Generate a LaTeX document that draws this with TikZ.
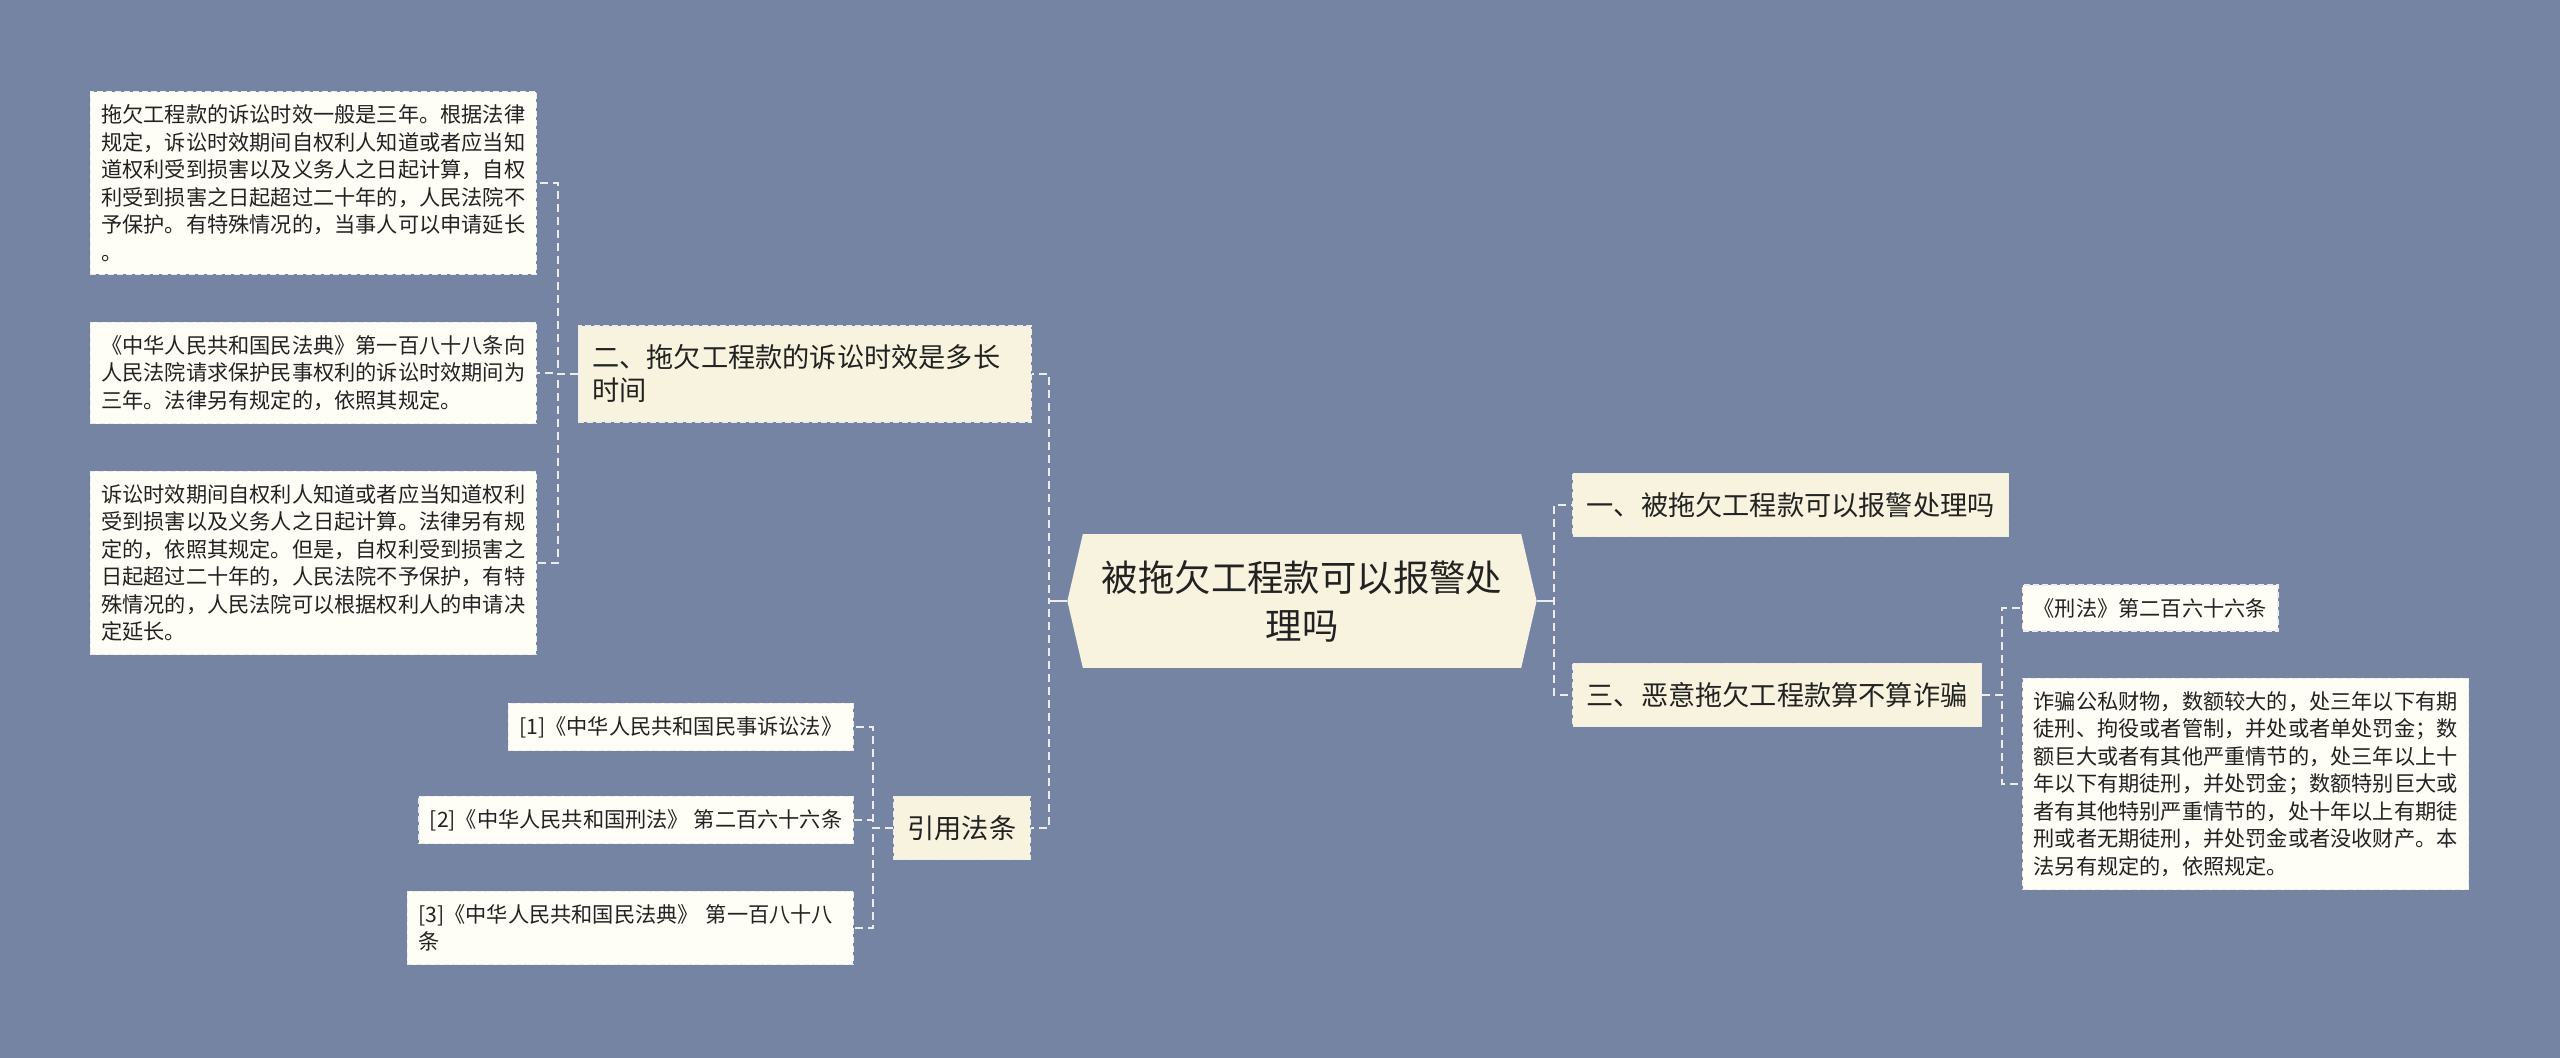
\documentclass[tikz,border=0pt]{standalone}
\usepackage{fontspec}
\setmainfont{Noto Sans CJK SC}
\usepackage{xcolor}
\usetikzlibrary{shapes.symbols}
\definecolor{bgblue}{HTML}{7684A4}
\definecolor{cream}{HTML}{F8F3DE}
\definecolor{paper}{HTML}{FEFDF6}
\definecolor{ink}{HTML}{222222}
\definecolor{rule}{HTML}{ECECEC}

\begin{document}
\begin{tikzpicture}[x=0.5pt,y=-0.5pt,
  box/.style={draw=rule,line width=0.7pt,dash pattern=on 3pt off 1.5pt,text=ink,align=left},
  leaf/.style={box,fill=paper,font={\fontsize{10.6pt}{13.75pt}\selectfont},inner xsep=5.5pt,inner ysep=6.5pt},
  branch/.style={box,fill=cream,font={\fontsize{13.6pt}{16.5pt}\selectfont},inner xsep=7pt,inner ysep=9.5pt},
  link/.style={rule,line width=1pt,dash pattern=on 4pt off 2.5pt}]
  \fill[bgblue] (0,0) rectangle (2560,1058);
  \useasboundingbox (0,0) rectangle (2560,1058);

  % centre
  \node[signal,signal to=west and east,signal pointer angle=154,fill=cream,text=ink,
        align=center,font={\fontsize{18.2pt}{24pt}\selectfont},inner xsep=9.5pt,inner ysep=13pt]
        (ctr) at (1302,601) {被拖欠工程款可以报警处\\理吗};

  % left side
  \node[branch,anchor=east,text width=212.5pt] (two) at (1032,374) {二、拖欠工程款的诉讼时效是多长\\时间};
  \node[branch,anchor=east] (law) at (1031,828) {引用法条};

  \node[leaf,anchor=east] (a1) at (537,183) {拖欠工程款的诉讼时效一般是三年。根据法律\\规定，诉讼时效期间自权利人知道或者应当知\\道权利受到损害以及义务人之日起计算，自权\\利受到损害之日起超过二十年的，人民法院不\\予保护。有特殊情况的，当事人可以申请延长\\。};
  \node[leaf,anchor=east] (a2) at (537,373) {《中华人民共和国民法典》第一百八十八条向\\人民法院请求保护民事权利的诉讼时效期间为\\三年。法律另有规定的，依照其规定。};
  \node[leaf,anchor=east] (a3) at (537,563) {诉讼时效期间自权利人知道或者应当知道权利\\受到损害以及义务人之日起计算。法律另有规\\定的，依照其规定。但是，自权利受到损害之\\日起超过二十年的，人民法院不予保护，有特\\殊情况的，人民法院可以根据权利人的申请决\\定延长。};

  \node[leaf,anchor=east] (ref1) at (854,727) {[1]《中华人民共和国民事诉讼法》};
  \node[leaf,anchor=east] (ref2) at (854,820) {[2]《中华人民共和国刑法》 第二百六十六条};
  \node[leaf,anchor=east,text width=212pt] (ref3) at (854,928) {[3]《中华人民共和国民法典》 第一百八十八\\条};

  % right side
  \node[branch,anchor=west] (one) at (1572,505) {一、被拖欠工程款可以报警处理吗};
  \node[branch,anchor=west] (three) at (1572,695) {三、恶意拖欠工程款算不算诈骗};

  \node[leaf,anchor=west] (r1) at (2022,608) {《刑法》第二百六十六条};
  \node[leaf,anchor=west] (r2) at (2022,784) {诈骗公私财物，数额较大的，处三年以下有期\\徒刑、拘役或者管制，并处或者单处罚金；数\\额巨大或者有其他严重情节的，处三年以上十\\年以下有期徒刑，并处罚金；数额特别巨大或\\者有其他特别严重情节的，处十年以上有期徒\\刑或者无期徒刑，并处罚金或者没收财产。本\\法另有规定的，依照规定。};

  % connectors
  \draw[rule,line width=1pt] (ctr.west) -- ++(-18,0);
  \draw[rule,line width=1pt] (ctr.east) -- ++(17,0);
  \draw[link] (ctr.west) -- ++(-18,0) |- (two.east);
  \draw[link] (ctr.west) -- ++(-18,0) |- (law.east);
  \draw[link] (ctr.east) -- ++(17,0) |- (one.west);
  \draw[link] (ctr.east) -- ++(17,0) |- (three.west);
  \foreach \n in {a1,a2,a3}
    \draw[link] (two.west) -- ++(-20,0) |- (\n.east);
  \foreach \n in {ref1,ref2,ref3}
    \draw[link] (law.west) -- ++(-20,0) |- (\n.east);
  \foreach \n in {r1,r2}
    \draw[link] (three.east) -- ++(20,0) |- (\n.west);
\end{tikzpicture}
\end{document}
